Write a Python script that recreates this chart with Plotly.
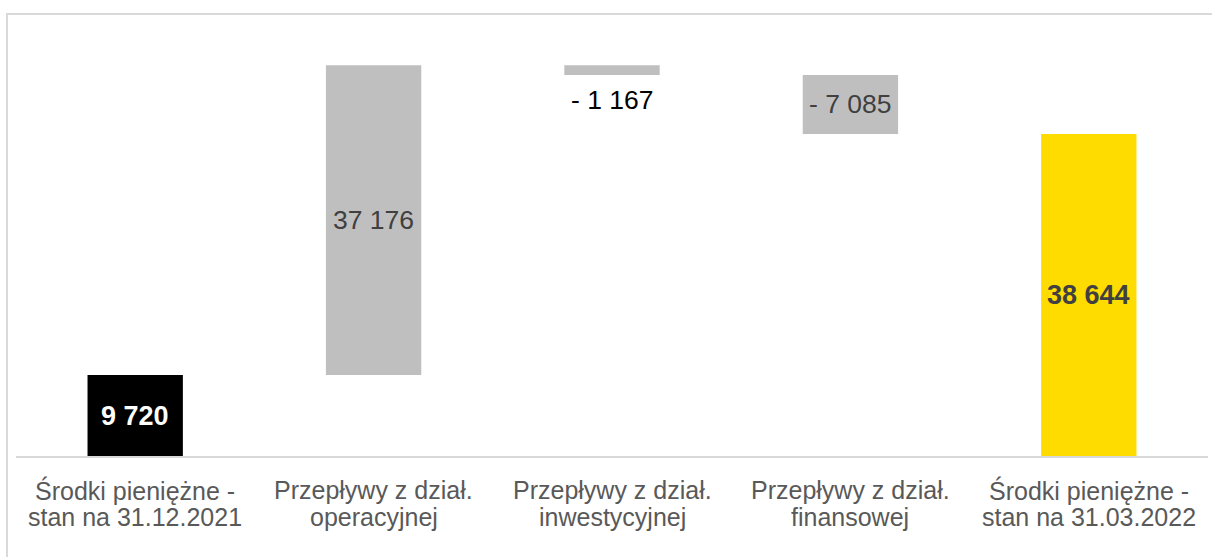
import plotly.graph_objects as go

# ---- data ----
labels_line1 = ["Środki pieniężne -", "Przepływy z dział.", "Przepływy z dział.", "Przepływy z dział.", "Środki pieniężne -"]
labels_line2 = ["stan na 31.12.2021", "operacyjnej", "inwestycyjnej", "finansowej", "stan na 31.03.2022"]
measures = ["absolute", "relative", "relative", "relative", "total"]
values = [9720, 37176, -1167, -7085, 38644]
bar_colors = ["#000000", "#BFBFBF", "#BFBFBF", "#BFBFBF", "#FFDC00"]
text_colors = ["#FFFFFF", "#404040", "#000000", "#404040", "#404040"]
text_bold = [True, False, False, False, True]
text_outside = [False, False, True, False, False]

cats = [f"{a} {b}" for a, b in zip(labels_line1, labels_line2)]

# compute bases for waterfall
bases = []
heights = []
running = 0
for m, v in zip(measures, values):
    if m == "absolute":
        bases.append(0)
        heights.append(v)
        running = v
    elif m == "relative":
        bases.append(running)
        heights.append(v)
        running += v
    else:
        bases.append(0)
        heights.append(v)


def fmt(v):
    s = f"{abs(v):,}".replace(",", " ")
    return ("- " + s) if v < 0 else s


W, H = 1212, 557
L, R, T, B = 16, 4, 30, 101
plot_h = H - T - B
plot_w = W - L - R
ymax = plot_h * 120
FS = 25
FS_VAL = 26.5
FS_BOLD = 27

fig = go.Figure()
fig.add_trace(go.Bar(
    x=cats, y=heights, base=bases,
    marker=dict(color=bar_colors, line=dict(width=0)),
    width=0.4, hoverinfo="skip",
))

font_family = "Liberation Sans, Arial, sans-serif"
annotations = []
for c, b, h, v, col, bold, out in zip(cats, bases, heights, values, text_colors, text_bold, text_outside):
    txt = fmt(v)
    size = FS_VAL
    if bold:
        txt = f"<b>{txt}</b>"
        size = FS_BOLD
    if out:
        annotations.append(dict(x=c, y=b + h, xref="x", yref="y", text=txt, showarrow=False,
                                yanchor="top", yshift=-8,
                                font=dict(family=font_family, size=size, color=col)))
    else:
        annotations.append(dict(x=c, y=b + h / 2, xref="x", yref="y", text=txt, showarrow=False,
                                yanchor="middle",
                                font=dict(family=font_family, size=size, color=col)))

for c, l1, l2 in zip(cats, labels_line1, labels_line2):
    annotations.append(dict(x=c, y=-34 / plot_h, xref="x", yref="paper", text=l1, showarrow=False,
                            yanchor="middle", borderpad=0,
                            font=dict(family=font_family, size=FS, color="#595959")))
    annotations.append(dict(x=c, y=-49 / plot_h, xref="x", yref="paper", text=l2, showarrow=False,
                            yanchor="top", height=25, valign="bottom", borderpad=0,
                            font=dict(family=font_family, size=FS, color="#595959")))

base_px = H - B
fig.update_layout(
    width=W, height=H,
    margin=dict(l=L, r=R, t=T, b=B, pad=0),
    paper_bgcolor="white", plot_bgcolor="white",
    showlegend=False,
    xaxis=dict(showticklabels=False, ticks="", showgrid=False, zeroline=False,
               showline=True, linecolor="#D9D9D9", linewidth=2, fixedrange=True),
    yaxis=dict(range=[0, ymax], visible=False, fixedrange=True),
    annotations=annotations,
    shapes=[dict(type="rect", xref="paper", yref="paper",
                 x0=(7 - L) / plot_w, x1=(W + 6 - L) / plot_w,
                 y0=(base_px - (H + 6)) / plot_h, y1=(base_px - 14) / plot_h,
                 line=dict(color="#D9D9D9", width=2), fillcolor="rgba(0,0,0,0)", layer="below")],
)

fig.write_html("out.html", config={"displayModeBar": False},
               post_script="document.body.style.margin='0';document.body.style.overflow='hidden';")
